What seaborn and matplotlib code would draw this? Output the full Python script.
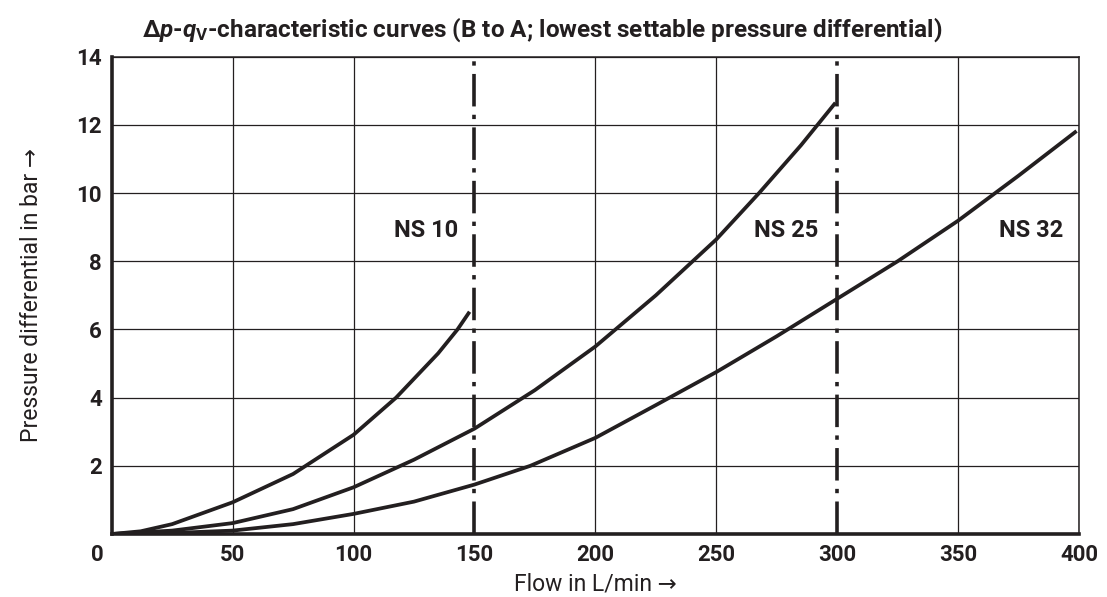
import numpy as np
import pandas as pd
import seaborn as sns
import matplotlib.pyplot as plt

# values (flow in L/min, pressure in bar)
ns10_flow = [0, 12, 25, 50, 75, 100, 117.6, 135, 143, 148]
ns10_dp = [0, 0.08, 0.29, 0.93, 1.76, 2.91, 4.0, 5.3, 6.0, 6.52]

ns25_flow = [0, 25, 50, 75, 100, 125, 150, 175, 200, 225, 250, 267.7, 285, 299.3]
ns25_dp = [0, 0.1, 0.32, 0.73, 1.37, 2.18, 3.09, 4.22, 5.5, 7.0, 8.64, 10.0, 11.4, 12.65]

ns32_flow = [0, 25, 50, 75, 100, 125, 150, 173.1, 200, 225, 250, 275, 300, 325, 350, 375, 399]
ns32_dp = [0, 0.03, 0.1, 0.29, 0.59, 0.95, 1.45, 2.0, 2.82, 3.78, 4.75, 5.8, 6.9, 8.0, 9.19, 10.51, 11.82]

size_limits = [150, 300]
labels = ['NS 10', 'NS 25', 'NS 32']
label_x = [130, 279, 380]
label_y = [8.9, 8.9, 8.9]

x_ticks = [50, 100, 150, 200, 250, 300, 350, 400]
y_ticks = [2, 4, 6, 8, 10, 12, 14]

ink = '#231f20'
fam = ['Roboto', 'DejaVu Sans']

sns.set_theme(style='white')
plt.rcParams['font.family'] = fam
plt.rcParams['mathtext.fontset'] = 'custom'
plt.rcParams['mathtext.it'] = 'Roboto:italic:bold'
plt.rcParams['mathtext.rm'] = 'Roboto:bold'
plt.rcParams['mathtext.bf'] = 'Roboto:bold'

fig = plt.figure(figsize=(11.07, 5.97), dpi=100)
ax = fig.add_axes([0.1009, 0.1055, 0.8738, 0.7995])

for fl, dp in [(ns10_flow, ns10_dp), (ns25_flow, ns25_dp), (ns32_flow, ns32_dp)]:
    sns.lineplot(x=fl, y=dp, ax=ax, color=ink, lw=2.7, sort=False, estimator=None,
                 solid_joinstyle='round', solid_capstyle='butt')

for xv in size_limits:
    ax.axvline(xv, color=ink, lw=2.6, linestyle=(0, (9, 2.3, 1.2, 2.3)), zorder=3)

for t, xv, yv in zip(labels, label_x, label_y):
    ax.text(xv, yv, t, ha='center', va='center', fontsize=17, fontweight='bold', color=ink)

ax.set_xlim(0, 400)
ax.set_ylim(0, 14)
ax.set_xticks(x_ticks)
ax.set_yticks(y_ticks)
ax.set_xticklabels([str(v) for v in x_ticks])
ax.set_yticklabels([str(v) for v in y_ticks])
ax.tick_params(length=0, labelsize=16, colors=ink)
ax.tick_params(axis='x', pad=7)
ax.tick_params(axis='y', pad=7)
for lab in ax.get_xticklabels() + ax.get_yticklabels():
    lab.set_fontweight('bold')
ax.annotate('0', xy=(0, 0), xytext=(-10, -7), textcoords='offset points',
            ha='center', va='top', fontsize=16, fontweight='bold', color=ink)

ax.grid(True, color=ink, lw=0.9)
ax.set_axisbelow(True)
# no grid line under the dash-dot size limits
for xv, gl in zip(x_ticks, ax.get_xgridlines()):
    if xv in size_limits:
        gl.set_visible(False)
for side in ['left', 'bottom']:
    ax.spines[side].set_linewidth(2.6)
    ax.spines[side].set_color(ink)
for side in ['top', 'right']:
    ax.spines[side].set_linewidth(1.1)
    ax.spines[side].set_color(ink)

ax.set_xlabel('Flow in L/min \u2192', fontsize=16.5, color=ink, labelpad=5)
ax.set_ylabel('Pressure differential in bar \u2192', fontsize=16.5, color=ink, labelpad=24)

fig.text(0.49, 0.95, r'$\mathit{\Delta p}$-$\mathit{q}_\mathrm{V}$-characteristic curves (B to A; lowest settable pressure differential)',
         ha='center', va='center', fontsize=17.5, fontweight='bold', color=ink)

fig.savefig('out.png', dpi=100)
